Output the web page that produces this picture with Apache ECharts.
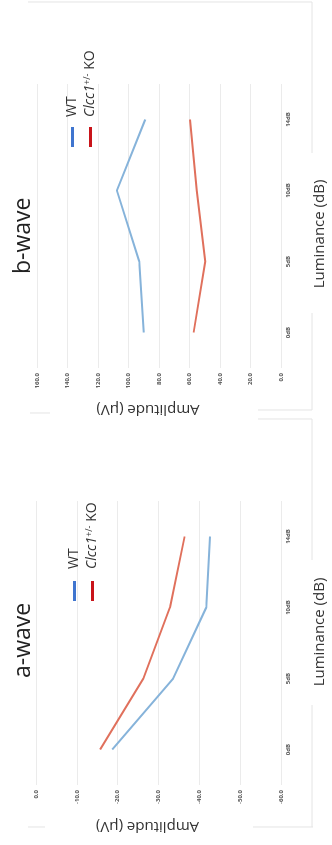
<!DOCTYPE html>
<html>
<head>
<meta charset="utf-8">
<script src="https://cdn.jsdelivr.net/npm/echarts@6/dist/echarts.min.js"></script>
<style>
  html, body { margin: 0; padding: 0; background: #ffffff; overflow: hidden; width: 332px; height: 845px; }
  #chart { position: absolute; left: 0; top: 0; width: 845px; height: 332px;
           transform-origin: 0 0; transform: translateY(845px) rotate(-90deg); }
</style>
</head>
<body>
<div id="chart"></div>
<script>
// ---- data ----
const categories = ['0dB', '5dB', '10dB', '14dB'];
const aWaveWT = [-18.7, -33.6, -41.7, -42.6];
const aWaveKO = [-15.7, -26.3, -32.8, -36.4];
const bWaveWT = [90.0, 93.0, 107.6, 89.0];
const bWaveKO = [57.3, 49.6, 55.3, 59.6];
const aAxis = { min: -60, max: 0, interval: 10 };
const bAxis = { min: 0, max: 160, interval: 20 };
const panelTitles = ['a-wave', 'b-wave'];
const xName = 'Luminance (dB)';
const yName = 'Amplitude (µV)';
const nameWT = 'WT';
const nameKO = 'Clcc1+/- KO';

const FONT = '"Open Sans", "Noto Sans", sans-serif';
const colWT = '#86b3da';
const colKO = '#e0705c';
const legWT = '#3f75cf';
const legKO = '#c9141a';
const gridCol = '#ebebeb';
const borderCol = '#e4e4e4';

const chart = echarts.init(document.getElementById('chart'), null, { renderer: 'canvas' });

function xAxisFor(gi, pad) {
  return {
    type: 'category', gridIndex: gi, data: categories, boundaryGap: true,
    axisLine: { show: false, onZero: false }, axisTick: { show: false },
    axisLabel: { fontSize: 6, color: '#555', fontFamily: FONT, fontWeight: 'bold', margin: 4 },
    name: xName, nameLocation: 'middle', nameGap: 31,
    nameTextStyle: { fontSize: 15, color: '#333', fontFamily: FONT, padding: pad }
  };
}
function yAxisFor(gi, ax) {
  return {
    type: 'value', gridIndex: gi, min: ax.min, max: ax.max, interval: ax.interval,
    axisLine: { show: false }, axisTick: { show: false },
    splitLine: { lineStyle: { color: gridCol, width: 1 } },
    axisLabel: { fontSize: 6, color: '#555', fontFamily: FONT, fontWeight: 'bold', margin: 5,
                 formatter: v => v.toFixed(1) },
    name: yName, nameLocation: 'middle', nameGap: 34, nameRotate: 90,
    nameTextStyle: { fontSize: 15, color: '#333', fontFamily: FONT, padding: [0, 0, 0, 22] }
  };
}
const rich = {
  n: { fontSize: 14, color: '#333', fontFamily: FONT, lineHeight: 16 },
  i: { fontSize: 14, color: '#333', fontFamily: FONT, fontStyle: 'italic', lineHeight: 16 },
  s: { fontSize: 9, color: '#333', fontFamily: FONT, verticalAlign: 'top', lineHeight: 16, padding: [0, 0, 6, 0] }
};
function legendFor(name, color, left, cy, gap) {
  return {
    orient: 'vertical', left: left, top: cy - 1.5, padding: 0,
    icon: 'rect', itemWidth: 20, itemHeight: 3,
    data: [{ name: name, itemStyle: { color: color } }],
    selectedMode: false,
    formatter: n => n === nameKO ? '{i|Clcc1}{s|+/-}{n| KO}' : '{n|' + n + '}',
    textStyle: { fontSize: 14, color: '#333', fontFamily: FONT, padding: [0, 0, 0, gap], rich: rich }
  };
}
function hline(x1, x2, y) { return { type: 'line', silent: true, shape: { x1: x1, y1: y, x2: x2, y2: y }, style: { stroke: borderCol, lineWidth: 1 } }; }
function vline(x, y1, y2) { return { type: 'line', silent: true, shape: { x1: x, y1: y1, x2: x, y2: y2 }, style: { stroke: borderCol, lineWidth: 1 } }; }

const option = {
  backgroundColor: '#ffffff',
  animation: false,
  title: [
    { text: panelTitles[0], left: 162, top: 7, textStyle: { fontSize: 23, fontWeight: 'normal', color: '#222', fontFamily: FONT } },
    { text: panelTitles[1], left: 566, top: 7, textStyle: { fontSize: 23, fontWeight: 'normal', color: '#222', fontFamily: FONT } }
  ],
  legend: [
    legendFor(nameWT, legWT, 244, 69, 7),
    legendFor(nameKO, legKO, 244, 86, 7),
    legendFor(nameWT, legWT, 698, 67, 5),
    legendFor(nameKO, legKO, 698, 84, 5)
  ],
  grid: [
    { left: 60, top: 36, width: 284, height: 247, containLabel: false },
    { left: 477, top: 37, width: 284, height: 245, containLabel: false }
  ],
  xAxis: [xAxisFor(0, [0, 0, 0, 22]), xAxisFor(1, [0, 16, 0, 0])],
  yAxis: [yAxisFor(0, aAxis), yAxisFor(1, bAxis)],
  series: [
    { name: nameWT, type: 'line', xAxisIndex: 0, yAxisIndex: 0, data: aWaveWT, symbol: 'none', lineStyle: { color: colWT, width: 2 }, itemStyle: { color: colWT } },
    { name: nameKO, type: 'line', xAxisIndex: 0, yAxisIndex: 0, data: aWaveKO, symbol: 'none', lineStyle: { color: colKO, width: 2 }, itemStyle: { color: colKO } },
    { name: nameWT, type: 'line', xAxisIndex: 1, yAxisIndex: 1, data: bWaveWT, symbol: 'none', lineStyle: { color: colWT, width: 2 }, itemStyle: { color: colWT } },
    { name: nameKO, type: 'line', xAxisIndex: 1, yAxisIndex: 1, data: bWaveKO, symbol: 'none', lineStyle: { color: colKO, width: 2 }, itemStyle: { color: colKO } }
  ],
  graphic: [
    // panel b frame (partial, as in the source figure)
    vline(843, 28, 312),
    hline(692, 843, 312), hline(435, 532, 312),
    vline(435, 258, 312), vline(432, 30, 50),
    // panel a frame
    vline(426, 258, 312),
    hline(285, 426, 312), hline(18, 140, 312),
    vline(18, 253, 313), vline(18, 28, 45)
  ]
};
chart.setOption(option);
</script>
</body>
</html>
